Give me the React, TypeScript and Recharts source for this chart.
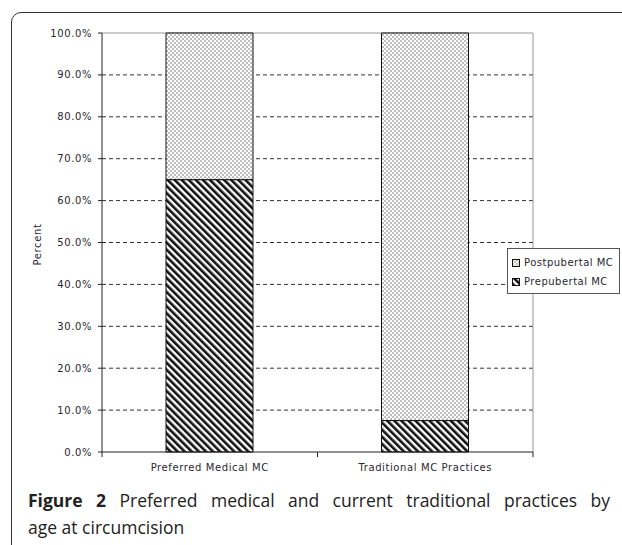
import { BarChart, Bar, XAxis, YAxis, CartesianGrid, Label } from 'recharts'

const categories = ['Preferred Medical MC', 'Traditional MC Practices']
const prepubertal = [65, 7.5]
const postpubertal = [35, 92.5]
const yTicks = [0, 10, 20, 30, 40, 50, 60, 70, 80, 90, 100]
const seriesNames = ['Postpubertal MC', 'Prepubertal MC']

const data = categories.map((c, i) => ({
  name: c,
  pre: prepubertal[i],
  post: postpubertal[i],
}))

const axisFont = { fontFamily: 'DejaVu Sans', fontSize: 10, letterSpacing: 0.6, fill: '#2a2730' }

const CatTick = ({ x, y, payload }: any) => {
  const half = payload?.offset ?? 107.75
  return (
    <g>
      <line x1={x - half} x2={x - half} y1={y - 8} y2={y - 3} stroke="#222" />
      <line x1={x + half} x2={x + half} y1={y - 8} y2={y - 3} stroke="#222" />
      <text x={x} y={y + 11} textAnchor="middle" {...axisFont}>{payload.value}</text>
    </g>
  )
}

const PercentLabel = ({ viewBox }: any) => {
  const cx = viewBox.x + 5
  const cy = viewBox.y + viewBox.height / 2 + 2
  return (
    <text x={cx} y={cy} transform={`rotate(-90 ${cx} ${cy})`} textAnchor="middle"
      dominantBaseline="central" {...axisFont}>Percent</text>
  )
}

export default function App() {
  return (
    <div style={{ position: 'absolute', left: 0, top: 0, width: 622, height: 545, overflow: 'hidden', background: '#fff' }}>
      <div style={{
        position: 'absolute', left: 11, top: 12, width: 700, height: 600,
        border: '1.5px solid #333', borderRadius: 10
      }} />
      <div style={{ position: 'absolute', left: 0, top: 0 }}>
        <BarChart width={622} height={500} data={data} margin={{ top: 33, right: 89, left: 32, bottom: 18 }}>
          <defs>
            <pattern id="dots" width="4" height="4" patternUnits="userSpaceOnUse">
              <rect width="4" height="4" fill="#fff" />
              <rect x="0.4" y="0.4" width="1.3" height="1.3" fill="#666" />
              <rect x="2.4" y="2.4" width="1.3" height="1.3" fill="#666" />
            </pattern>
            <pattern id="stripes" width="5" height="5" patternUnits="userSpaceOnUse" patternTransform="rotate(-45)">
              <rect width="5" height="5" fill="#fff" />
              <rect width="2.6" height="5" fill="#111" />
            </pattern>
          </defs>
          <CartesianGrid vertical={false} horizontalValues={yTicks.slice(1, -1)} stroke="#333" strokeDasharray="4 3" />
          <CartesianGrid
            horizontalCoordinatesGenerator={({ offset }: any) => [offset.top]}
            verticalCoordinatesGenerator={({ offset }: any) => [offset.left + offset.width]}
            stroke="#999"
          />
          <XAxis dataKey="name" height={30} tickLine={false} tick={<CatTick />} axisLine={{ stroke: '#222' }} />
          <YAxis width={70} domain={[0, 100]} ticks={yTicks} interval={0}
            tickFormatter={(v: number) => `${v.toFixed(1)}%`}
            tick={axisFont} tickSize={4} tickMargin={6}
            axisLine={{ stroke: '#222' }} tickLine={{ stroke: '#222' }}>
            <Label content={<PercentLabel />} />
          </YAxis>
          <Bar dataKey="pre" name={seriesNames[1]} stackId="a" barSize={87} fill="url(#stripes)" stroke="#111" strokeWidth={1} isAnimationActive={false} />
          <Bar dataKey="post" name={seriesNames[0]} stackId="a" barSize={87} fill="url(#dots)" stroke="#111" strokeWidth={1} isAnimationActive={false} />
        </BarChart>
      </div>
      <div style={{
        position: 'absolute', left: 507, top: 248, width: 113, height: 46,
        border: '1px solid #555', background: '#fff', boxSizing: 'border-box',
        padding: '4px 0 0 4px'
      }}>
        {seriesNames.map((n, i) => (
          <div key={n} style={{ display: 'flex', alignItems: 'center', height: 19, whiteSpace: 'nowrap', fontFamily: 'DejaVu Sans', fontSize: 10, letterSpacing: 0.5, color: '#2a2730' }}>
            <svg width="8" height="8" style={{ marginRight: 4 }}>
              <rect x="0.5" y="0.5" width="7" height="7" fill={i === 0 ? 'url(#dots)' : 'url(#stripes)'} stroke="#111" />
            </svg>
            {n}
          </div>
        ))}
      </div>
      <div style={{
        position: 'absolute', left: 28, top: 487, width: 582,
        fontFamily: '"Open Sans"', fontSize: 17.5, lineHeight: '27px', color: '#222'
      }}>
        <div style={{ textAlign: 'justify', textAlignLast: 'justify', whiteSpace: 'normal' }}>
          <b>Figure 2</b> Preferred medical and current traditional practices by
        </div>
        <div>age at circumcision</div>
      </div>
    </div>
  )
}
